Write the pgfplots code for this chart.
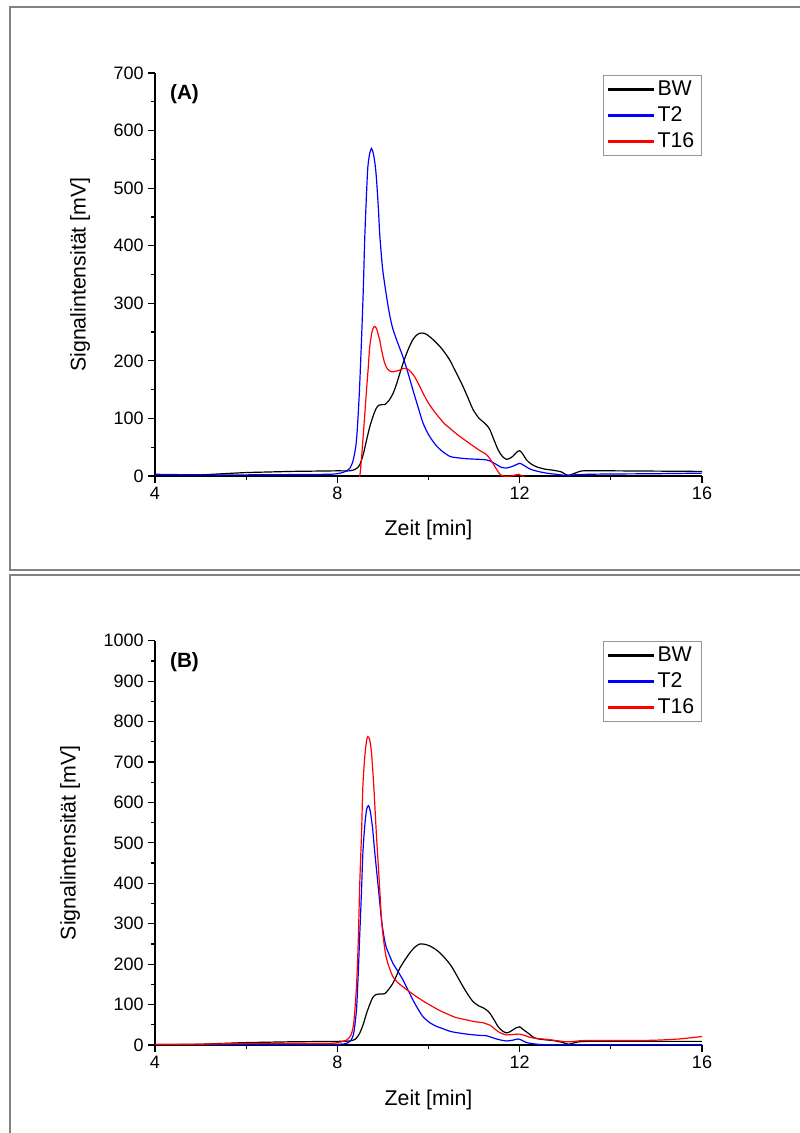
\documentclass[border=0pt]{standalone}
\usepackage{fontspec}
\setmainfont{Liberation Sans}
\usepackage{pgfplots}
\pgfplotsset{compat=1.18}
\definecolor{framegray}{RGB}{130,130,130}
\definecolor{leggray}{RGB}{150,150,150}

\pgfplotsset{
 chrom/.style={
  scale only axis, width=410.25pt,
  xmin=4, xmax=16, ymin=0,
  axis lines=left, axis line style={-, line width=0.9pt},
  tick align=outside, major tick length=5pt, minor tick length=3pt,
  every tick/.style={black, line width=0.9pt},
  xtick={4,8,12,16}, minor x tick num=1, minor y tick num=1,
  /pgf/number format/assume math mode=true,
  /pgf/number format/1000 sep={},
  tick label style={font=\fontsize{13.5}{16}\selectfont},
  label style={font=\fontsize{16}{19}\selectfont},
  xlabel={Zeit [min]}, ylabel={Signalintensität [mV]},
  xlabel style={at={(axis description cs:0.5,-0.135)}, anchor=center},
  legend style={at={(axis description cs:1,1)}, anchor=north east, draw=leggray, line width=0.6pt,
     font=\fontsize{16}{19}\selectfont, inner xsep=3pt, inner ysep=0.75pt, row sep=0pt,
     nodes={inner xsep=2.5pt, inner ysep=2.5pt, text height=11.5pt, text depth=3pt}},
  legend cell align=left,
  legblack/.style={legend image code/.code={\fill[fill=black] (0pt,-0.5pt) rectangle (34pt,0.5pt);}},
  legblue/.style={legend image code/.code={\fill[fill=blue] (0pt,-0.5pt) rectangle (34pt,0.5pt);}},
  legred/.style={legend image code/.code={\fill[fill=red] (0pt,-0.5pt) rectangle (34pt,0.5pt);}},
  every axis plot/.append style={line width=0.9pt, smooth, tension=0.45},
 }
}

\begin{document}
\begin{tikzpicture}
\useasboundingbox (0,0) rectangle (600pt,-849.75pt);
\draw[draw=framegray, line width=1.5pt] (7.5pt,-5.25pt) rectangle (615pt,-427.5pt);
\draw[draw=framegray, line width=1.5pt] (7.5pt,-431.25pt) rectangle (615pt,-870pt);

\begin{axis}[chrom, at={(116.25pt,-357pt)}, anchor=south west, height=302.25pt,
  ymax=700, ytick={0,100,...,700},
  ylabel style={at={(axis description cs:-0.137,0.5)}, anchor=center},
  legend style={yshift=-1.5pt}]
\addplot[draw=black, legblack] coordinates {(4,1) (4.5,1) (5,2) (5.5,4) (6,6) (6.5,7) (7,8) (7.5,8.5) (8,9) (8.27,9) (8.4,12) (8.49,19) (8.57,38) (8.64,62) (8.71,85) (8.78,103) (8.85,117) (8.91,123) (8.98,124) (9.04,124) (9.13,131) (9.22,143) (9.3,160) (9.37,178) (9.46,200) (9.55,219) (9.65,236) (9.73,244) (9.81,248) (9.9,248) (9.96,246) (10.1,237) (10.25,225) (10.36,214) (10.47,201) (10.54,190) (10.65,173) (10.76,155) (10.87,135) (10.98,115) (11.1,101) (11.2,94) (11.28,88) (11.35,80) (11.44,62) (11.53,45) (11.62,34) (11.71,29) (11.79,31) (11.86,35) (11.93,41) (12.0,44) (12.07,38) (12.15,28) (12.25,21) (12.37,16) (12.55,12) (12.74,10) (12.92,7) (13.0,3) (13.07,1) (13.15,3) (13.25,6) (13.4,9) (14,9) (15,8.5) (16,8)};
\addlegendentry{BW}
\addplot[draw=blue, legblue] coordinates {(4,3) (5,2) (6,2) (7,2.5) (7.8,3) (8.0,4) (8.15,7) (8.27,13) (8.35,28) (8.42,62) (8.48,140) (8.53,236) (8.57,325) (8.60,410) (8.64,490) (8.67,537) (8.71,560) (8.75,569) (8.79,560) (8.83,540) (8.86,515) (8.9,465) (8.93,420) (8.97,380) (9.0,355) (9.06,322) (9.11,297) (9.16,275) (9.22,255) (9.33,230) (9.44,207) (9.55,179) (9.66,149) (9.77,120) (9.88,92) (10.0,72) (10.1,60) (10.18,52) (10.3,43) (10.47,34) (10.6,32) (10.84,30) (11.1,29) (11.27,28) (11.38,25) (11.49,20) (11.6,15) (11.72,14) (11.85,17) (12.0,22) (12.08,19) (12.23,12) (12.4,8) (12.59,5) (12.8,3) (13.03,1) (13.2,2) (13.5,3) (14,3.5) (15,4) (16,5)};
\addlegendentry{T2}
\addplot[draw=red, legred] coordinates {(8.44,-20) (8.49,-2) (8.53,30) (8.56,62) (8.6,105) (8.64,149) (8.68,190) (8.71,224) (8.76,250) (8.81,260) (8.86,256) (8.9,245) (8.93,236) (8.98,215) (9.04,196) (9.1,186) (9.19,181) (9.28,182) (9.37,184) (9.45,187) (9.52,187) (9.6,182) (9.7,172) (9.83,152) (9.96,132) (10.1,115) (10.25,100) (10.36,90) (10.47,83) (10.54,78) (10.7,68) (10.84,60) (11.0,51) (11.13,44) (11.22,40) (11.31,34) (11.38,26) (11.46,16) (11.53,7) (11.6,1) (11.71,-0.5) (11.85,0.5) (11.97,3) (12.04,1) (12.1,-2) (12.2,-20)};
\addlegendentry{T16}
\node[font=\bfseries\fontsize{15.5}{18}\selectfont] at (axis description cs:0.054,0.947) {(A)};
\end{axis}

\begin{axis}[chrom, at={(116.25pt,-783.75pt)}, anchor=south west, height=303.2pt,
  ymax=1000, ytick={0,100,...,1000},
  ylabel style={at={(axis description cs:-0.155,0.5)}, anchor=center},
  legend style={yshift=-0.25pt}]
\addplot[draw=black, legblack] coordinates {(4,1) (4.5,1) (5,2) (5.5,4) (6,6) (6.5,7) (7,8) (7.5,8.5) (8,9) (8.27,10) (8.4,15) (8.49,29) (8.57,52) (8.64,78) (8.71,100) (8.78,118) (8.85,125) (8.91,126) (8.98,126) (9.04,127) (9.13,138) (9.22,153) (9.3,172) (9.37,190) (9.48,210) (9.59,228) (9.7,242) (9.81,250) (9.92,249) (10.03,245) (10.15,237) (10.25,228) (10.36,215) (10.47,200) (10.54,188) (10.65,166) (10.76,144) (10.87,124) (10.98,107) (11.1,97) (11.2,92) (11.28,86) (11.35,78) (11.44,62) (11.53,45) (11.62,35) (11.71,30) (11.79,33) (11.86,38) (11.93,43) (12.0,45) (12.08,38) (12.19,29) (12.28,21) (12.37,16) (12.55,13) (12.74,11) (12.92,7) (13.0,4) (13.07,2) (13.15,4) (13.3,8) (13.5,9) (14,9) (15,9) (16,9)};
\addlegendentry{BW}
\addplot[draw=blue, legblue] coordinates {(4,1) (5,1) (6,1) (7,1) (8,2) (8.2,4) (8.3,12) (8.36,30) (8.42,87) (8.46,180) (8.49,268) (8.53,380) (8.56,474) (8.6,540) (8.64,581) (8.68,592) (8.72,580) (8.77,540) (8.81,490) (8.86,433) (8.92,365) (8.97,309) (9.02,270) (9.07,243) (9.15,220) (9.22,202) (9.33,182) (9.44,161) (9.55,136) (9.66,111) (9.77,89) (9.88,70) (10.03,55) (10.18,46) (10.3,41) (10.47,34) (10.6,31) (10.84,27) (11.1,24) (11.27,23) (11.38,19) (11.49,15) (11.6,12) (11.71,10) (11.85,12) (11.97,15) (12.06,11) (12.15,6) (12.3,3) (12.52,1) (13,0.5) (14,0.5) (16,0.5)};
\addlegendentry{T2}
\addplot[draw=red, legred] coordinates {(4,2) (5,2) (6,4) (7,4) (7.83,4) (8.0,6) (8.2,12) (8.3,25) (8.36,55) (8.42,144) (8.46,260) (8.49,392) (8.53,520) (8.56,639) (8.6,710) (8.64,752) (8.67,763) (8.71,755) (8.75,722) (8.8,640) (8.86,515) (8.92,405) (8.97,309) (9.02,255) (9.07,218) (9.15,188) (9.22,169) (9.33,154) (9.44,144) (9.58,132) (9.73,120) (9.88,109) (10.03,99) (10.25,85) (10.47,74) (10.6,68) (10.84,62) (11.0,58) (11.2,55) (11.28,52) (11.35,49) (11.44,41) (11.53,33) (11.62,28) (11.71,25) (11.85,26) (12.0,27) (12.1,24) (12.23,19) (12.4,16) (12.59,14) (12.8,11) (13.03,8) (13.2,9) (13.4,11) (14,11) (14.5,11) (15,12) (15.5,15) (16,21)};
\addlegendentry{T16}
\node[font=\bfseries\fontsize{15.5}{18}\selectfont] at (axis description cs:0.054,0.947) {(B)};
\end{axis}
\end{tikzpicture}
\end{document}
